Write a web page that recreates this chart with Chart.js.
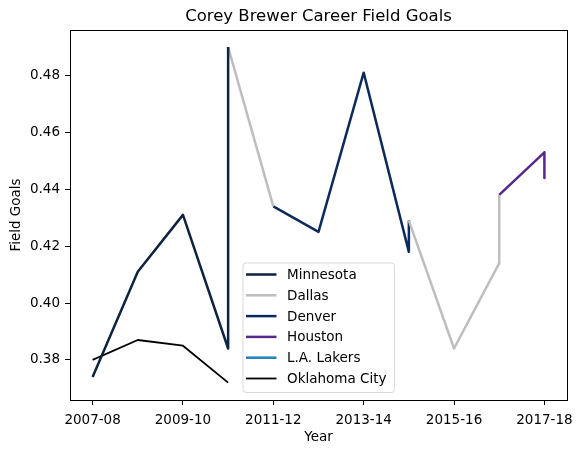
<!DOCTYPE html>
<html>
<head>
<meta charset="utf-8">
<script src="https://cdn.jsdelivr.net/npm/chart.js@4.4.1/dist/chart.umd.min.js"></script>
<style>
  html,body{margin:0;padding:0;background:#fff;}
  #wrap{width:582px;height:453px;}
</style>
</head>
<body>
<div id="wrap"><canvas id="fgChart" width="582" height="453"></canvas></div>
<script>
// temporadas (eje x por indice)
const seasons = ["2007-08","2008-09","2009-10","2010-11","2011-12","2012-13","2013-14","2014-15","2015-16","2016-17","2017-18"];
const xTicks = [0,2,4,6,8,10];
const yTicks = [0.38,0.40,0.42,0.44,0.46,0.48];

// series por equipo: indice de temporada + porcentaje
const minnesotaX = [0,1,2,3,3];
const minnesotaY = [0.374,0.411,0.431,0.384,0.490];
const dallasX = [3,4,null,7,8,9,9];
const dallasY = [0.490,0.434,null,0.429,0.384,0.414,0.438];
const denverX = [4,5,6,7,7];
const denverY = [0.434,0.425,0.481,0.418,0.429];
const houstonX = [9,10,10];
const houstonY = [0.438,0.453,0.444];
const lakersX = [];
const lakersY = [];
const okcX = [0,1,2,3];
const okcY = [0.380,0.387,0.385,0.372];

const FONT = "'DejaVu Sans', sans-serif";

function pts(xs, ys){
  return xs.map((x,i)=>({x:x, y:ys[i]}));
}

// titulo, marco y leyenda estilo matplotlib
const decoPlugin = {
  id:'deco',
  afterDraw(chart){
    const ctx = chart.ctx;
    const a = chart.chartArea;
    ctx.save();
    // marco
    ctx.strokeStyle = '#000';
    ctx.lineWidth = 1;
    ctx.strokeRect(Math.round(a.left)+0.5, Math.round(a.top)+0.5, Math.round(a.right-a.left), Math.round(a.bottom-a.top));
    // titulo
    ctx.fillStyle = '#000';
    ctx.font = "16.5px " + FONT;
    ctx.textAlign = 'center';
    ctx.textBaseline = 'middle';
    ctx.fillText("Corey Brewer Career Field Goals", (a.left+a.right)/2, 17);
    // leyenda
    const lx = a.left + 172.5, ly = a.bottom - 137.5, lw = 151.5, lh = 129.5;
    ctx.globalAlpha = 0.8;
    ctx.fillStyle = '#fff';
    ctx.strokeStyle = '#d0d0d0';
    ctx.beginPath();
    ctx.roundRect(lx+0.5, ly+0.5, lw, lh, 3);
    ctx.fill();
    ctx.stroke();
    ctx.globalAlpha = 1;
    ctx.font = "13.5px " + FONT;
    ctx.textAlign = 'left';
    ctx.textBaseline = 'middle';
    chart.data.datasets.forEach((ds,i)=>{
      const y = ly + 12 + i*20.8;
      ctx.strokeStyle = ds.borderColor;
      ctx.lineWidth = ds.borderWidth;
      ctx.beginPath();
      ctx.moveTo(lx+3.5, y);
      ctx.lineTo(lx+34, y);
      ctx.stroke();
      ctx.fillStyle = '#000';
      ctx.fillText(ds.label, lx+44.5, y+1);
    });
    ctx.restore();
  }
};

function mk(label, xs, ys, color, w){
  return {
    label: label,
    data: pts(xs, ys),
    borderColor: color,
    backgroundColor: color,
    borderWidth: w,
    borderJoinStyle: 'round',
    pointRadius: 0,
    tension: 0,
    spanGaps: false,
    fill: false
  };
}

new Chart(document.getElementById('fgChart'), {
  type:'line',
  data:{
    datasets:[
      mk("Minnesota", minnesotaX, minnesotaY, "#0C2340", 2.5),
      mk("Dallas", dallasX, dallasY, "#BEBEBE", 2.5),
      mk("Denver", denverX, denverY, "#0E2A5A", 2.5),
      mk("Houston", houstonX, houstonY, "#55288A", 2.5),
      mk("L.A. Lakers", lakersX, lakersY, "#1F7FC1", 2.5),
      mk("Oklahoma City", okcX, okcY, "#000000", 1.8)
    ]
  },
  options:{
    responsive:false,
    animation:false,
    devicePixelRatio:1,
    layout:{padding:{left:0,right:15,top:30,bottom:0}},
    plugins:{
      legend:{display:false},
      title:{display:false},
      tooltip:{enabled:false}
    },
    scales:{
      x:{
        type:'linear',
        min:-0.5,
        max:10.5,
        afterBuildTicks: s => { s.ticks = xTicks.map(v=>({value:v})); },
        afterFit: s => { s.height = 53; },
        grid:{drawOnChartArea:false, drawTicks:true, tickLength:5, tickColor:'#000'},
        border:{display:true, color:'#000', width:1},
        ticks:{
          color:'#000',
          font:{family:FONT, size:13.5},
          padding:7,
          maxRotation:0,
          callback: v => seasons[v] || ''
        },
        title:{display:true, text:'Year', color:'#000', font:{family:FONT, size:13.5}, padding:{top:0,bottom:7}}
      },
      y:{
        type:'linear',
        min:0.3659,
        max:0.4960,
        afterBuildTicks: s => { s.ticks = yTicks.map(v=>({value:v})); },
        afterFit: s => { s.width = 70; },
        grid:{drawOnChartArea:false, drawTicks:true, tickLength:5, tickColor:'#000'},
        border:{display:true, color:'#000', width:1},
        ticks:{
          color:'#000',
          font:{family:FONT, size:13.5},
          padding:5,
          callback: v => v.toFixed(2)
        },
        title:{display:true, text:'Field Goals', color:'#000', font:{family:FONT, size:13.5}, padding:{top:8,bottom:0}}
      }
    }
  },
  plugins:[decoPlugin]
});
</script>
</body>
</html>
